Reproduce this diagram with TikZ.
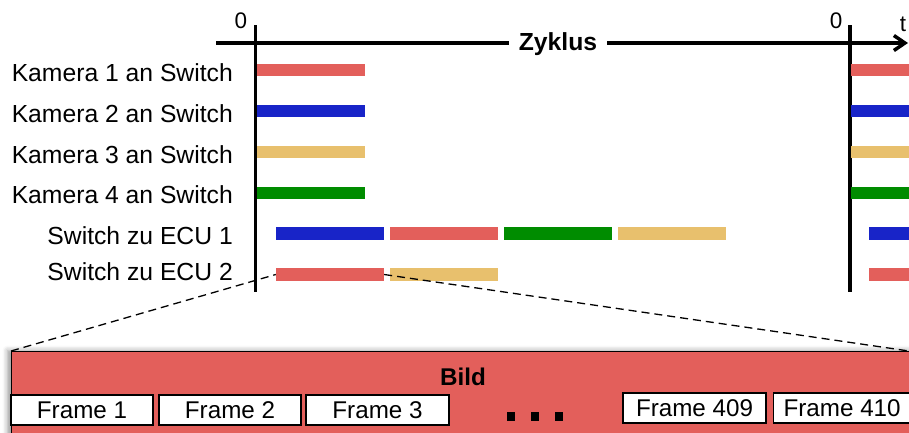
\documentclass[tikz,border=0pt]{standalone}
\usepackage{fontspec}
\setmainfont{Liberation Sans}
\usetikzlibrary{arrows.meta,shadows.blur}
\definecolor{cred}{RGB}{227,95,91}
\definecolor{cblue}{RGB}{24,36,200}
\definecolor{cyellow}{RGB}{232,192,109}
\definecolor{cgreen}{RGB}{0,140,0}
\tikzset{
  bar/.style={draw=none, inner sep=0pt, minimum height=12.5pt},
  lbl/.style={anchor=base east, inner sep=0pt, font=\fontsize{24.7}{28}\selectfont},
  axisline/.style={line width=3.5pt},
  ticklbl/.style={font=\fontsize{22.5}{26}\selectfont, inner sep=0pt},
  framebox/.style={draw=black, line width=1.3pt, fill=white, inner sep=0pt, minimum height=30pt, font=\fontsize{24.2}{28}\selectfont},
  zoomline/.style={dashed, dash pattern=on 8pt off 5pt, line width=1.3pt},
}
\begin{document}
\begin{tikzpicture}[x=1pt,y=-1pt]
\useasboundingbox (0,0) rectangle (909,432);
% bottom box
\node[draw=black, line width=1pt, fill=cred, inner sep=0pt, minimum width=910pt, minimum height=95pt, anchor=north west,
  blur shadow={shadow xshift=-4pt, shadow yshift=1pt, shadow blur radius=5pt, shadow opacity=40}] (bild) at (11,351) {};
\node[font=\bfseries\fontsize{24.2}{28}\selectfont, anchor=base, inner sep=0pt] (bildt) at (463,385) {Bild};
\node[framebox, minimum width=142pt] (f1) at (82,410) {Frame 1};
\node[framebox, minimum width=142pt] (f2) at (230,410) {Frame 2};
\node[framebox, minimum width=143pt] (f3) at (377.5,410) {Frame 3};
\node[framebox, minimum width=143pt] (f409) at (694.5,408) {Frame 409};
\node[framebox, minimum width=143pt, anchor=west] (f410) at (773,408) {\hspace*{-6pt}Frame 410};
\node[fill=black, minimum width=8pt, minimum height=9pt, inner sep=0pt] (d1) at (511,416) {};
\node[fill=black, minimum width=8pt, minimum height=9pt, inner sep=0pt] (d2) at (535,416) {};
\node[fill=black, minimum width=8pt, minimum height=9pt, inner sep=0pt] (d3) at (559,416) {};
% axis
\coordinate (axL) at (216,43);
\coordinate (axR) at (908,43);
\draw[axisline, -{Straight Barb[length=11pt,width=15pt]}] (axL) -- (axR);
\node[fill=white, font=\bfseries\fontsize{24.7}{28}\selectfont, inner xsep=10pt, inner ysep=2pt] (zyklus) at (558,44) {Zyklus};
\coordinate (v0t) at (255.5,25);
\coordinate (v0b) at (255.5,292);
\coordinate (v1t) at (850,25);
\coordinate (v1b) at (850,292);
\draw[axisline] (v0t) -- (v0b);
\draw[axisline] (v1t) -- (v1b);
\node[ticklbl] (zero0) at (241,21) {0};
\node[ticklbl] (zero1) at (836,21) {0};
\node[ticklbl] (tlab) at (903,24) {t};
% labels
\node[lbl] (k1) at (233,81) {Kamera 1 an Switch};
\node[lbl] (k2) at (233,122) {Kamera 2 an Switch};
\node[lbl] (k3) at (233,163) {Kamera 3 an Switch};
\node[lbl] (k4) at (233,203) {Kamera 4 an Switch};
\node[lbl] (e1) at (233,244) {Switch zu ECU 1};
\node[lbl] (e2) at (233,280) {Switch zu ECU 2};
% bars rows 1-4
\node[bar, fill=cred, minimum width=108pt] (b1) at (311,70) {};
\node[bar, fill=cblue, minimum width=108pt] (b2) at (311,111) {};
\node[bar, fill=cyellow, minimum width=108pt] (b3) at (311,152) {};
\node[bar, fill=cgreen, minimum width=108pt] (b4) at (311,193) {};
% row 5
\node[bar, fill=cblue, minimum width=108pt] (b5a) at (330,233.5) {};
\node[bar, fill=cred, minimum width=108pt] (b5b) at (444,233.5) {};
\node[bar, fill=cgreen, minimum width=108pt] (b5c) at (558,233.5) {};
\node[bar, fill=cyellow, minimum width=108pt] (b5d) at (672,233.5) {};
% row 6
\node[bar, fill=cred, minimum width=108pt] (b6a) at (330,274.5) {};
\node[bar, fill=cyellow, minimum width=108pt] (b6b) at (444,274.5) {};
% right side bars
\node[bar, fill=cred, minimum width=64pt] (r1) at (883,70) {};
\node[bar, fill=cblue, minimum width=64pt] (r2) at (883,111) {};
\node[bar, fill=cyellow, minimum width=64pt] (r3) at (883,152) {};
\node[bar, fill=cgreen, minimum width=64pt] (r4) at (883,193) {};
\node[bar, fill=cblue, minimum width=46pt] (r5) at (892,233.5) {};
\node[bar, fill=cred, minimum width=46pt] (r6) at (892,274.5) {};
% zoom lines
\coordinate (bildNE) at (909,351);
\draw[zoomline] (bild.north west) -- (b6a.west);
\draw[zoomline] (b6a.east) -- (bildNE);
\end{tikzpicture}
\end{document}
